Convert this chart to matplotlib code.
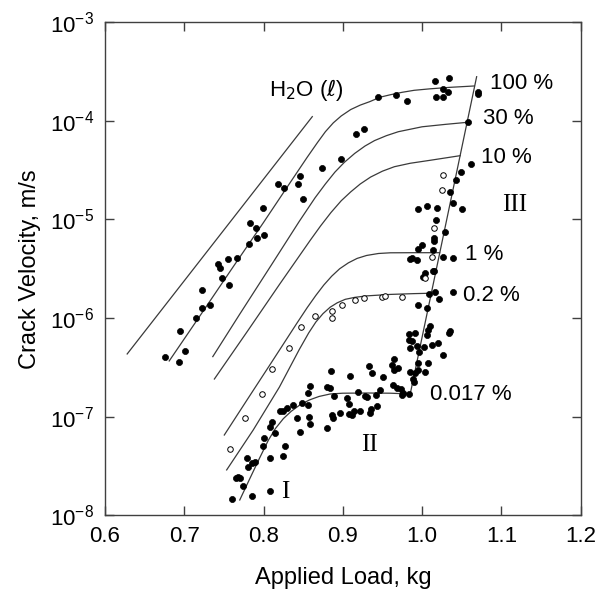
import numpy as np
import matplotlib
matplotlib.use("Agg")
import matplotlib.pyplot as plt
from matplotlib.ticker import LogLocator, NullLocator, FixedLocator

plt.rcParams['font.family'] = ['Liberation Sans', 'DejaVu Sans']

# curves: load (kg) and log10 of crack velocity (m/s)
h2o_x = [0.628, 0.8615]
h2o_lv = [-6.364, -3.957]

c100_x = [0.681, 0.72, 0.76, 0.80, 0.833, 0.855, 0.868, 0.878, 0.888, 0.898, 0.91, 0.922, 0.934,
          0.947, 0.96, 0.975, 0.99, 1.01, 1.035, 1.066]
c100_lv = [-6.435, -5.975, -5.50, -5.03, -4.633, -4.37, -4.22, -4.11, -4.02, -3.95, -3.885, -3.84,
           -3.805, -3.76, -3.735, -3.71, -3.69, -3.675, -3.66, -3.646]

c30_x = [0.736, 0.77, 0.81, 0.845, 0.865, 0.878, 0.89, 0.902, 0.915, 0.928, 0.94, 0.955, 0.97,
         0.985, 1.0, 1.03, 1.058]
c30_lv = [-6.391, -5.96, -5.46, -5.02, -4.78, -4.64, -4.52, -4.42, -4.33, -4.255, -4.20, -4.15,
          -4.11, -4.085, -4.06, -4.035, -4.014]

c10_x = [0.738, 0.78, 0.82, 0.859, 0.872, 0.885, 0.898, 0.91, 0.922, 0.935, 0.95, 0.965, 0.985,
         1.01, 1.048]
c10_lv = [-6.618, -6.13, -5.66, -5.21, -5.065, -4.93, -4.81, -4.72, -4.64, -4.57, -4.51, -4.465,
          -4.43, -4.40, -4.353]

c1_x = [0.7505, 0.78, 0.81, 0.842, 0.855, 0.866, 0.876, 0.886, 0.896, 0.907, 0.918, 0.93, 0.945,
        0.96, 0.99, 1.022]
c1_lv = [-7.186, -6.82, -6.45, -6.053, -5.895, -5.77, -5.665, -5.575, -5.50, -5.44, -5.395, -5.365,
         -5.345, -5.338, -5.337, -5.337]

c02_x = [0.7535, 0.787, 0.82, 0.845, 0.857, 0.866, 0.875, 0.884, 0.893, 0.903, 0.915, 0.93, 0.96,
         0.99, 1.012]
c02_lv = [-7.54, -7.135, -6.70, -6.32, -6.15, -6.04, -5.955, -5.89, -5.845, -5.81, -5.79, -5.775,
          -5.76, -5.752, -5.748]

c0017_x = [0.770, 0.782, 0.795, 0.806, 0.815, 0.825, 0.835, 0.846, 0.858, 0.87, 0.884, 0.9, 0.93,
           0.96, 0.985]
c0017_lv = [-7.845, -7.64, -7.42, -7.24, -7.12, -7.02, -6.945, -6.88, -6.83, -6.795, -6.77, -6.762,
            -6.76, -6.762, -6.77]

reg3_x = [0.985, 1.0688]
reg3_lv = [-6.77, -3.552]

# filled data points
dots_x = [
    0.6761, 0.693, 0.6942, 0.7009, 0.7148, 0.722, 0.7224, 0.7324, 0.7421, 0.7451, 0.748, 0.7548,
    0.7564, 0.766, 0.782, 0.7829, 0.790, 0.7913, 0.801, 0.7997, 0.8186, 0.8262, 0.8438, 0.846,
    0.8502, 0.8741, 0.8973, 0.9162, 0.927, 0.9448, 0.967, 0.9805,
    1.0162, 1.0343, 1.0267, 1.0322, 1.0175, 1.0267, 1.0709, 1.0702, 1.0583, 1.0617, 1.049, 1.0427,
    1.0352, 1.0394, 1.0499, 0.9952, 1.0065, 1.0184, 1.0175, 1.015, 1.015, 1.0288, 0.9995, 0.9952,
    1.0133, 0.9876, 1.0267, 1.0394, 0.9939, 1.015, 1.0036, 1.0015, 1.0133,
    1.0087, 1.0162, 1.0217, 1.0385, 0.9944, 1.0057, 1.0099, 1.007, 1.0057, 0.9839, 0.991, 0.9835,
    0.9868, 0.9847, 0.994, 0.9965, 1.0028, 1.012, 1.0205, 1.0352, 1.0339, 1.0259, 0.965, 0.9624,
    0.970, 0.965, 0.9952, 0.9847, 0.991, 0.9952, 1.0036, 1.007, 0.9889, 0.9902, 0.9334, 0.9372,
    0.9502, 0.909, 0.8851, 0.9637, 0.9679, 0.9729, 0.9755, 0.9835, 0.9742, 0.9469, 0.9414, 0.928,
    0.9301, 0.9195, 0.9057, 0.9082, 0.8893, 0.8838, 0.8804, 0.8586, 0.8556, 0.8207, 0.8241, 0.830,
    0.8376, 0.8489, 0.8556, 0.8418, 0.8573, 0.8586, 0.846, 0.8796, 0.8859, 0.888, 0.8964, 0.9082,
    0.9216, 0.9141, 0.9111, 0.9343, 0.9355, 0.9427, 0.8102, 0.8081, 0.8144, 0.801, 0.7997, 0.827,
    0.8249, 0.8081, 0.7787, 0.7808, 0.785, 0.7892, 0.7682, 0.7652, 0.7703, 0.7736, 0.785, 0.8081,
    0.7598, 0.9847,
]
dots_lv = [
    -6.391, -6.442, -6.131, -6.334, -6.002, -5.901, -5.715, -5.867, -5.451, -5.495, -5.596, -5.404,
    -5.664, -5.394, -5.252, -5.039, -5.089, -5.185, -5.157, -4.886, -4.643, -4.677, -4.640, -4.559,
    -4.795, -4.475, -4.386, -4.133, -4.082, -3.755, -3.737, -3.795,
    -3.592, -3.565, -3.676, -3.704, -3.761, -3.761, -3.704, -3.730, -4.014, -4.437, -4.521, -4.599,
    -4.718, -4.830, -4.897, -4.897, -4.863, -4.886, -5.005, -5.191, -5.218, -5.124, -5.259, -5.302,
    -5.309, -5.394, -5.384, -5.394, -5.411, -5.519, -5.546, -5.580, -5.519,
    -5.759, -5.732, -5.810, -5.732, -5.871, -5.894, -6.080, -6.121, -6.171, -6.161, -6.155, -6.222,
    -6.229, -6.307, -6.283, -6.340, -6.290, -6.273, -6.249, -6.127, -6.154, -6.374, -6.415, -6.476,
    -6.503, -6.526, -6.452, -6.543, -6.560, -6.526, -6.543, -6.459, -6.621, -6.645, -6.486, -6.560,
    -6.601, -6.584, -6.537, -6.679, -6.706, -6.716, -6.756, -6.773, -6.780, -6.729, -6.780, -6.787,
    -6.797, -6.746, -6.814, -6.871, -6.787, -6.712, -6.695, -6.689, -6.756, -6.942, -6.939, -6.908,
    -6.881, -6.864, -6.881, -7.017, -7.006, -7.074, -7.152, -7.118, -6.983, -7.010, -6.966, -6.976,
    -6.942, -6.942, -6.983, -6.966, -6.925, -6.891, -7.050, -7.101, -7.169, -7.219, -7.294, -7.294,
    -7.399, -7.416, -7.422, -7.507, -7.473, -7.456, -7.608, -7.625, -7.625, -7.700, -7.804, -7.750,
    -7.838, -5.404,
]

# open circles
open_x = [0.758, 0.7766, 0.7976, 0.811, 0.8321, 0.8468, 0.8649, 0.8859, 0.8859, 0.8985, 0.9153,
          0.9271, 0.9498, 0.953, 0.975, 1.026, 1.0255, 1.0154, 1.0128, 1.0036]
open_lv = [-7.33, -7.01, -6.77, -6.519, -6.306, -6.093, -5.976, -5.925, -5.996, -5.867, -5.820,
           -5.793, -5.783, -5.775, -5.783, -4.549, -4.701, -5.089, -5.384, -5.596]

curve_labels = ['100 %', '30 %', '10 %', '1 %', '0.2 %', '0.017 %']
label_x = [1.0856, 1.0764, 1.0743, 1.054, 1.0516, 1.010]
label_lv = [-3.621, -3.981, -4.376, -5.36, -5.776, -6.775]

fig = plt.figure(figsize=(6.1, 5.97), dpi=100)
ax = fig.add_axes([0.1721, 0.1369, 0.7798, 0.8258])

line_kw = dict(color='#3a3a3a', lw=0.9)
for cx, cl in [(h2o_x, h2o_lv), (c100_x, c100_lv), (c30_x, c30_lv), (c10_x, c10_lv),
               (c1_x, c1_lv), (c02_x, c02_lv), (c0017_x, c0017_lv), (reg3_x, reg3_lv)]:
    ax.plot(cx, 10 ** np.array(cl), **line_kw)

ax.plot(dots_x, 10 ** np.array(dots_lv), 'o', color='black', ms=4.4, mec='black', mew=0.5)
ax.plot(open_x, 10 ** np.array(open_lv), 'o', mfc='white', mec='black', ms=4.0, mew=0.7)

for t, lx, ly in zip(curve_labels, label_x, label_lv):
    ax.text(lx, 10 ** ly, t, fontsize=16, ha='left', va='center')

ax.text(0.854, 10 ** -3.685, r'H$_2$O ($\ell$)', fontsize=16, ha='center', va='center')
ax.text(1.117, 10 ** -4.853, 'III', fontsize=18, family='Liberation Serif', ha='center', va='center')
ax.text(0.933, 10 ** -7.292, 'II', fontsize=18, family='Liberation Serif', ha='center', va='center')
ax.text(0.827, 10 ** -7.759, 'I', fontsize=18, family='Liberation Serif', ha='center', va='center')

ax.set_yscale('log')
ax.set_xlim(0.6, 1.2)
ax.set_ylim(1e-8, 1e-3)
ax.xaxis.set_major_locator(FixedLocator([0.6, 0.7, 0.8, 0.9, 1.0, 1.1, 1.2]))
ax.set_xticklabels(['0.6', '0.7', '0.8', '0.9', '1.0', '1.1', '1.2'])
ax.yaxis.set_major_locator(LogLocator(base=10, numticks=10))
ax.yaxis.set_minor_locator(NullLocator())
ax.tick_params(direction='in', length=6.5, width=1, top=True, right=True,
               labelsize=16, color='#404040', pad=8)
for s in ax.spines.values():
    s.set_color('#404040')
    s.set_linewidth(1)

ax.set_xlabel('Applied Load, kg', fontsize=17, labelpad=14)
ax.set_ylabel('Crack Velocity, m/s', fontsize=17, labelpad=6)

fig.savefig('out.png', dpi=100)
